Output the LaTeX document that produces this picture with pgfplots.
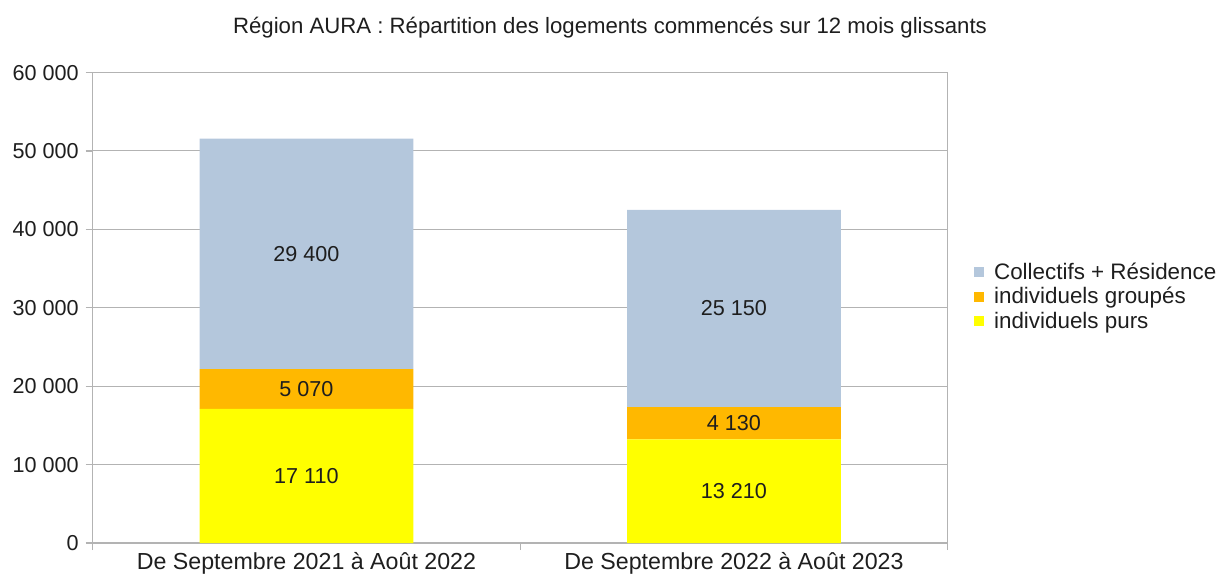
\documentclass[border=0pt]{standalone}
\usepackage{fontspec}
\setmainfont{Liberation Sans}
\usepackage{pgfplots}
\pgfplotsset{compat=1.18}
\definecolor{cColl}{RGB}{180,199,220}
\definecolor{cGrp}{RGB}{255,184,0}
\definecolor{cPur}{RGB}{255,255,0}
\definecolor{cGrid}{RGB}{179,179,179}
\definecolor{cTxt}{RGB}{30,30,30}
\begin{document}
\begin{tikzpicture}
\useasboundingbox (0,0) rectangle (611pt,287pt);
\node[font=\fontsize{11.1}{12}\selectfont, text=cTxt] at (305pt,273pt)
  {Région AURA : Répartition des logements commencés sur 12 mois glissants};
\begin{axis}[
  at={(46.35pt,15.5pt)}, anchor=south west,
  scale only axis,
  width=427.5pt, height=235.2pt,
  ybar stacked,
  bar width=106.9pt,
  xmin=-0.5, xmax=1.5,
  ymin=0, ymax=60000,
  ytick={0,10000,...,60000},
  scaled y ticks=false,
  xtick={-0.5,0.5,1.5},
  xticklabels={},
  extra x ticks={0,1},
  extra x tick labels={De Septembre 2021 à Août 2022, De Septembre 2022 à Août 2023},
  extra x tick style={major tick length=0pt,
    xticklabel style={yshift=-1pt, font=\fontsize{11.6}{13}\selectfont}},
  ymajorgrids=true,
  grid style={cGrid, line width=0.5pt},
  axis line style={cGrid, line width=0.6pt},
  tick style={cGrid, line width=0.6pt},
  major tick length=3.5pt,
  tick align=outside,
  tick pos=left,
  /pgf/number format/assume math mode=true,
  /pgf/number format/1000 sep={\ },
  tick label style={font=\fontsize{10.8}{12}\selectfont, text=cTxt},
  visualization depends on={rawy \as \rawy},
  nodes near coords={\pgfmathprintnumber[assume math mode=true, 1000 sep={\ }]{\rawy}},
  every node near coord/.append style={font=\fontsize{10.8}{12}\selectfont, text=cTxt,
    anchor=center},
  point meta=rawy,
  reverse legend,
  legend style={at={(1,0.523)}, anchor=west, xshift=13pt, draw=none, fill=none,
    font=\fontsize{11.2}{12}\selectfont, text=cTxt, legend cell align=left,
    row sep=-1.5pt, inner sep=0pt},
  legend image code/.code={\fill[#1] (0pt,-2.4pt) rectangle (5pt,2.6pt); \path (8pt,0pt);},
]
\addplot[fill=cPur, draw=none] coordinates {(0,17110) (1,13210)};
\addplot[fill=cGrp, draw=none] coordinates {(0,5070) (1,4130)};
\addplot[fill=cColl, draw=none] coordinates {(0,29400) (1,25150)};
\legend{individuels purs, individuels groupés, Collectifs + Résidence}
\end{axis}
\end{tikzpicture}
\end{document}
